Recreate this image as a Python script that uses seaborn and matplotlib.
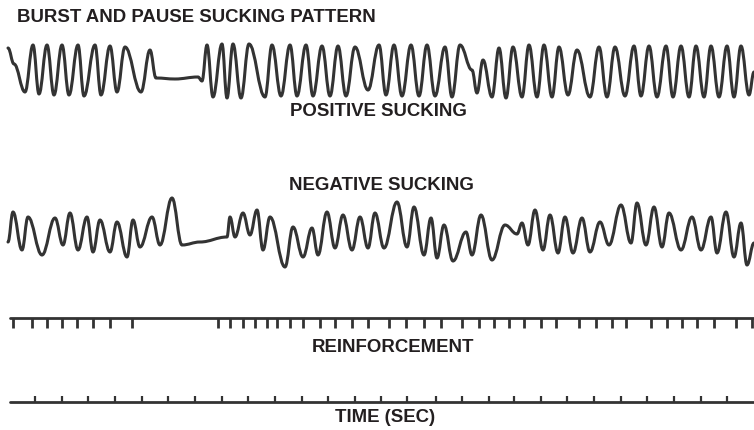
import numpy as np
import pandas as pd
import seaborn as sns
import matplotlib
matplotlib.use("Agg")
import matplotlib.pyplot as plt
from matplotlib.path import Path
from matplotlib.patches import PathPatch

# ---- data (x in px along the recording, y = pen level in px) ----
pos_x = [8, 14, 25, 33, 39, 47, 54, 62, 69, 78, 84, 95, 101, 110, 117, 125, 141, 150, 156, 175, 198, 202,
         207, 213, 222, 227, 233, 241, 249, 265, 272, 281, 290, 297, 306, 313, 322, 330, 338, 346, 355, 368,
         379, 386, 394, 402, 411, 419, 427, 435, 445, 452, 460, 472, 477, 483, 492, 499, 506, 513, 522, 529,
         537, 544, 552, 559, 568, 577, 590, 599, 607, 615, 625, 634, 641, 649, 657, 666, 673, 681, 689, 696,
         704, 711, 719, 727, 734, 741, 749, 754]
pos_y = [48, 64, 92, 45, 94, 45, 95, 45, 95, 45, 96, 45, 95, 46, 92, 47, 92, 50, 78, 79, 77, 81,
         45, 97, 44, 98, 44, 98, 44, 97, 45, 96, 45, 96, 45, 96, 46, 96, 46, 96, 47, 90,
         45, 95, 45, 96, 45, 96, 45, 96, 47, 97, 45, 70, 93, 60, 97, 48, 98, 47, 97, 45,
         97, 45, 97, 47, 95, 50, 97, 47, 97, 47, 96, 46, 96, 46, 97, 46, 97, 46, 97, 46,
         97, 46, 97, 46, 97, 46, 95, 72]

neg_x = [8, 13, 22, 28, 42, 55, 63, 70, 78, 87, 93, 100, 110, 117, 127, 133, 140, 152, 160, 172, 182, 200,
         227, 230, 235, 243, 250, 257, 263, 270, 285, 293, 303, 312, 318, 327, 335, 343, 352, 360, 368, 375,
         384, 397, 407, 414, 424, 431, 437, 444, 453, 466, 472, 481, 492, 505, 517, 522, 528, 535, 543, 550,
         558, 565, 573, 582, 590, 600, 609, 621, 631, 637, 646, 654, 662, 669, 681, 692, 701, 711, 717, 726,
         734, 741, 747, 754]
neg_y = [242, 212, 250, 217, 255, 218, 245, 213, 250, 217, 252, 220, 252, 222, 257, 220, 247, 217, 245, 198, 245, 242,
         237, 217, 237, 213, 235, 210, 250, 217, 267, 227, 257, 228, 255, 212, 248, 215, 250, 217, 248, 213,
         248, 202, 247, 207, 255, 218, 258, 225, 261, 232, 255, 215, 260, 225, 234, 223, 245, 210, 250, 215,
         253, 217, 253, 218, 252, 222, 245, 205, 243, 203, 245, 207, 247, 213, 250, 217, 250, 217, 253, 212,
         257, 223, 265, 243]

reinf_ticks = [13, 32, 47, 62, 77, 93, 110, 132, 218, 230, 243, 255, 267, 277, 290, 303, 320, 335, 352, 368,
               389, 406, 424, 441, 462, 479, 494, 509, 524, 541, 556, 579, 596, 612, 626, 651, 667, 682, 697,
               714, 736, 752]
time_ticks = [35, 62, 88, 115, 142, 168, 195, 222, 248, 275, 302, 328, 355,
              381, 407, 436, 462, 489, 514, 541, 567, 594, 621, 647, 674, 701, 727]

title = "BURST AND PAUSE SUCKING PATTERN"
labels = ["POSITIVE SUCKING", "NEGATIVE SUCKING", "REINFORCEMENT", "TIME (SEC)"]

# ---- drawing ----
sns.set_style("white")
plt.rcParams['font.family'] = ['Liberation Sans', 'DejaVu Sans']

W, H = 754, 430
fig = plt.figure(figsize=(W / 100, H / 100), dpi=100)
ax = fig.add_axes([0, 0, 1, 1])

INK = "#333333"
TXT = "#231f20"


def smooth_trace(ax, xs, ys, k=0.40, **kw):
    verts = [(xs[0], ys[0])]
    codes = [Path.MOVETO]
    for i in range(1, len(xs)):
        x0, y0, x1, y1 = xs[i - 1], ys[i - 1], xs[i], ys[i]
        d = x1 - x0
        verts += [(x0 + k * d, y0), (x1 - k * d, y1), (x1, y1)]
        codes += [Path.CURVE4] * 3
    ax.add_patch(PathPatch(Path(verts, codes), fill=False, **kw))


# baselines drawn with seaborn
base = pd.DataFrame({"x": [10, W, 10, W], "y": [318, 318, 402, 402], "trace": ["r", "r", "t", "t"]})
sns.lineplot(data=base, x="x", y="y", units="trace", estimator=None, color=INK, lw=2.0, ax=ax, legend=False)

smooth_trace(ax, pos_x, pos_y, lw=2.2, edgecolor=INK, capstyle="round", joinstyle="round")
smooth_trace(ax, neg_x, neg_y, lw=2.2, edgecolor=INK, capstyle="round", joinstyle="round")

ax.vlines(reinf_ticks, 318, 328, color=INK, lw=2.0)
ax.vlines(time_ticks, 396, 402, color=INK, lw=1.6)

ax.set_xlim(0, W)
ax.set_ylim(H, 0)
ax.axis("off")

fs = 13.4
ax.text(17, 17, title, fontsize=fs, fontweight="bold", color=TXT, ha="left", va="center")
for lab, x, y in zip(labels, [378, 381, 393, 385], [112, 186, 348, 418]):
    ax.text(x, y, lab, fontsize=fs, fontweight="bold", color=TXT, ha="center", va="center")

fig.savefig("out.png", dpi=100)
